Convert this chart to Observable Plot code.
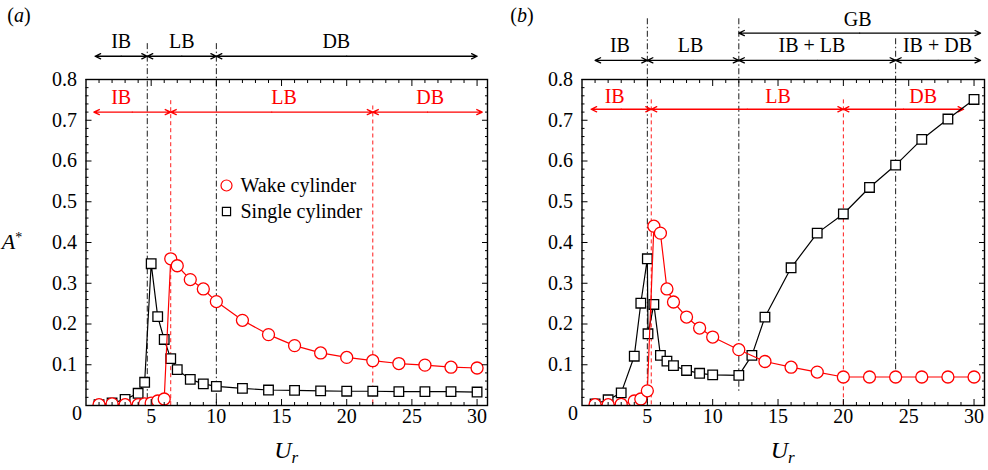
<!DOCTYPE html>
<html><head><meta charset="utf-8">
<script src="https://cdn.jsdelivr.net/npm/d3@7"></script>
<script src="https://cdn.jsdelivr.net/npm/@observablehq/plot@0.6"></script>
<style>
body{margin:0;background:#fff;}
#wrap{display:flex;width:988px;height:470px;overflow:hidden;}
</style></head><body><div id="wrap"></div>
<script>
const SERIF = '"Liberation Serif","Times New Roman",Times,serif';
const RED = "#ff0000";

// ---------- Panel (a) data ----------
const urA = [1,2,3,4,4.5,5,5.5,6,6.5,7,8,9,10,12,14,16,18,20,22,24,26,28,30];
const wakeA = [0.002,0.004,0.002,0.002,0.004,0.006,0.011,0.016,0.360,0.343,0.309,0.286,0.255,0.209,0.174,0.147,0.129,0.118,0.110,0.103,0.099,0.094,0.092];
const singleA = [0.002,0.006,0.015,0.030,0.057,0.348,0.218,0.162,0.115,0.088,0.064,0.053,0.047,0.042,0.038,0.037,0.036,0.035,0.035,0.034,0.034,0.034,0.033];

// ---------- Panel (b) data ----------
const urWakeB = [1,2,3,4,4.5,5,5.5,6,6.5,7,8,9,10,12,14,16,18,20,22,24,26,28,30];
const wakeB = [0.002,0.002,0.003,0.011,0.016,0.036,0.440,0.423,0.286,0.254,0.217,0.190,0.168,0.137,0.108,0.094,0.082,0.070,0.070,0.070,0.070,0.070,0.070];
const urSingleB = [1,2,3,4,4.5,5,5.05,5.5,6,6.5,7,8,9,10,12,13,14,16,18,20,22,24,26,28,30];
const singleB = [0.004,0.014,0.031,0.121,0.251,0.360,0.176,0.248,0.123,0.109,0.098,0.086,0.079,0.075,0.074,0.123,0.217,0.338,0.423,0.470,0.535,0.590,0.653,0.703,0.751];

// ---------- Regime annotations ----------
const regA_black_edges = [0.7, 4.7, 10, 30];
const regA_black_names = ["IB", "LB", "DB"];
const regA_black_labelX = [2.7, 7.35, 19.2];
const regA_red_edges = [0.6, 6.5, 22, 30.4];
const regA_red_names = ["IB", "LB", "DB"];
const regA_red_labelX = [2.7, 15.2, 26.4];

const regB_black_edges = [1.0, 5, 12, 24, 30.5];
const regB_black_names = ["IB", "LB", "IB + LB", "IB + DB"];
const regB_black_labelX = [2.9, 8.3, 17.6, 27.2];
const regB_gb_edges = [12, 30.5];
const regB_gb_names = ["GB"];
const regB_gb_labelX = [21.1];
const regB_red_edges = [0.7, 5.3, 20, 29.2];
const regB_red_names = ["IB", "LB", "DB"];
const regB_red_labelX = [2.5, 15.0, 26.1];

// boundary lines (x positions)
const dashDotA = [4.7, 10];
const redDashA = [6.5, 22];
const dashDotB = [5, 12, 24];
const redDashB = [5.3, 20];

// ticks
const xMajor = [5, 10, 15, 20, 25, 30];
const xMinor = d3.range(1, 31).filter(v => v % 5 !== 0);
const yMajor = [0.1, 0.2, 0.3, 0.4, 0.5, 0.6, 0.7, 0.8];
const yMinor = d3.range(1, 40).filter(v => v % 5 !== 0).map(v => +(v * 0.02).toFixed(2));

function zip(xs, ys) { return xs.map((x, i) => ({x, y: ys[i]})); }
function halfSegs(edges, level) {
  const out = [];
  edges.slice(1).forEach((e, i) => {
    const a = edges[i], m = (a + e) / 2;
    out.push({x1: m, x2: a, y: level});
    out.push({x1: m, x2: e, y: level});
  });
  return out;
}
function labels(xs, names, level) { return xs.map((x, i) => ({x, y: level, t: names[i]})); }

function axes() {
  return [
    Plot.axisX(xMajor, {anchor: "bottom", tickSize: 0, tickPadding: 3, fontSize: 20, label: null}),
    Plot.axisX(xMajor, {anchor: "bottom", tickSize: -6, tickFormat: () => "", label: null}),
    Plot.axisX(xMinor, {anchor: "bottom", tickSize: -3, tickFormat: () => "", label: null}),
    Plot.axisX(xMajor, {anchor: "top", tickSize: -6, tickFormat: () => "", label: null}),
    Plot.axisX(xMinor, {anchor: "top", tickSize: -3, tickFormat: () => "", label: null}),
    Plot.axisY(yMajor, {anchor: "left", tickSize: 0, tickPadding: 9, fontSize: 20, label: null}),
    Plot.axisY(yMajor, {anchor: "left", tickSize: -6, tickFormat: () => "", label: null}),
    Plot.axisY(yMinor, {anchor: "left", tickSize: -3, tickFormat: () => "", label: null}),
    Plot.axisY(yMajor, {anchor: "right", tickSize: -6, tickFormat: () => "", label: null}),
    Plot.axisY(yMinor, {anchor: "right", tickSize: -3, tickFormat: () => "", label: null}),
    Plot.text(["0"], {frameAnchor: "bottom-left", dx: -14, dy: 8, fontSize: 20, lineAnchor: "middle"}),
    Plot.frame({stroke: "black", strokeWidth: 1.4})
  ];
}

function series(data, color, symbol, r) {
  return [
    Plot.line(data, {x: "x", y: "y", stroke: color, strokeWidth: 1.2, clip: true}),
    Plot.dot(data, {x: "x", y: "y", stroke: color, fill: "white", strokeWidth: 1.3, symbol, r, clip: true})
  ];
}

function arrowRow(edges, names, labelX, level, labelLevel, color) {
  return [
    Plot.arrow(halfSegs(edges, level), {x1: "x1", x2: "x2", y1: "y", y2: "y", stroke: color, strokeWidth: 1.3, headLength: 7, headAngle: 50}),
    Plot.text(labels(labelX, names, labelLevel), {x: "x", y: "y", text: "t", fill: color, fontSize: 20, lineAnchor: "middle"})
  ];
}

function vlines(xs, y1s, y2s, color, dash, w) {
  const d = xs.map((x, i) => ({x, y1: y1s[i], y2: y2s[i]}));
  return Plot.ruleX(d, {x: "x", y1: "y1", y2: "y2", stroke: color, strokeWidth: w, strokeDasharray: dash});
}

const DASHDOT = "6,2.5,1.5,2.5";
const DASH = "4,3";

function base(marginLeft, marginRight, marks) {
  return Plot.plot({
    width: 494, height: 470,
    marginLeft, marginRight, marginTop: 79, marginBottom: 65,
    x: {domain: [0, 30.8]},
    y: {domain: [0, 0.8]},
    style: {fontFamily: SERIF, fontSize: "20px", color: "black", background: "white", overflow: "visible"},
    marks
  });
}

// ---------- Panel (a) ----------
const plotA = base(85.5, 7, [
  vlines(dashDotA, [0.888, 0.888], [0, 0], "black", DASHDOT, 0.9),
  vlines(redDashA, [0.748, 0.735], [0, 0], RED, DASH, 0.9),
  ...arrowRow(regA_black_edges, regA_black_names, regA_black_labelX, 0.857, 0.893, "black"),
  ...arrowRow(regA_red_edges, regA_red_names, regA_red_labelX, 0.72, 0.756, RED),
  ...series(zip(urA, singleA), "black", "square", 5.4),
  ...series(zip(urA, wakeA), RED, "circle", 6),
  // legend
  Plot.dot([0], {frameAnchor: "top-left", dx: 140.5, dy: 106, r: 5.5, stroke: RED, fill: "white", strokeWidth: 1.2}),
  Plot.dot([0], {frameAnchor: "top-left", dx: 140.5, dy: 132, r: 4.6, symbol: "square", stroke: "black", fill: "white", strokeWidth: 1.2}),
  Plot.text(["Wake cylinder"], {frameAnchor: "top-left", dx: 154.5, dy: 106, textAnchor: "start", lineAnchor: "middle", fontSize: 20}),
  Plot.text(["Single cylinder"], {frameAnchor: "top-left", dx: 154.5, dy: 132, textAnchor: "start", lineAnchor: "middle", fontSize: 20}),
  ...axes()
]);

// ---------- Panel (b) ----------
const plotB = base(87.5, 4, [
  vlines(dashDotB, [0.949, 0.949, 0.9], [0, 0.033, 0.054], "black", DASHDOT, 0.9),
  vlines(redDashB, [0.75, 0.75], [0, 0], RED, DASH, 0.9),
  ...arrowRow(regB_gb_edges, regB_gb_names, regB_gb_labelX, 0.914, 0.946, "black"),
  ...arrowRow(regB_black_edges, regB_black_names, regB_black_labelX, 0.847, 0.883, "black"),
  ...arrowRow(regB_red_edges, regB_red_names, regB_red_labelX, 0.727, 0.757, RED),
  ...series(zip(urSingleB, singleB), "black", "square", 5.4),
  ...series(zip(urWakeB, wakeB), RED, "circle", 6),
  ...axes()
]);

function decorate(svgNode, tag, tagX, showY) {
  const svg = d3.select(svgNode);
  const cx = (svgNode === plotA) ? (85.5 + 487) / 2 : (87.5 + 490) / 2;
  svg.append("text").attr("x", tagX).attr("y", 22).attr("font-family", SERIF).attr("font-size", 20)
    .attr("text-anchor", "middle")
    .html(`(<tspan font-style="italic">${tag}</tspan>)`);
  svg.append("text").attr("x", cx).attr("y", 458).attr("font-family", SERIF).attr("font-size", 24)
    .attr("font-style", "italic").attr("text-anchor", "middle")
    .html('U<tspan font-size="17" dy="5">r</tspan>');
  if (showY) {
    svg.append("text").attr("x", 12).attr("y", 249).attr("font-family", SERIF).attr("font-size", 22)
      .html('<tspan font-style="italic">A</tspan><tspan font-size="14" dy="-7">*</tspan>');
  }
}
decorate(plotA, "a", 19, true);
decorate(plotB, "b", 28, false);

document.getElementById("wrap").append(plotA, plotB);
</script></body></html>
